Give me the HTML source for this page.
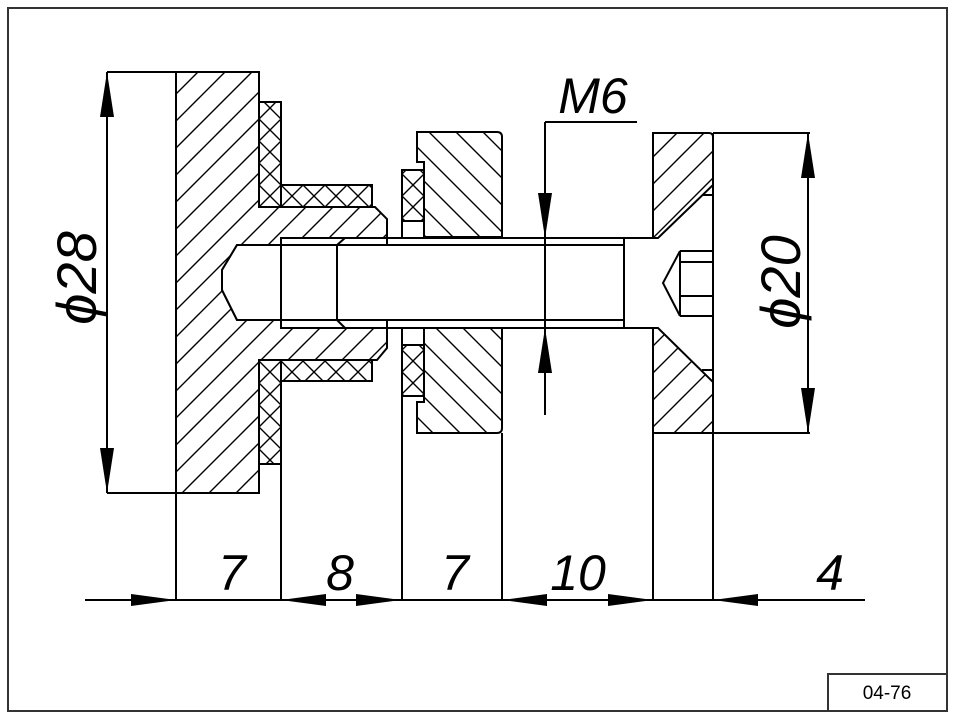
<!DOCTYPE html>
<html><head><meta charset="utf-8"><style>
html,body{margin:0;padding:0;background:#fff;}
svg{display:block;}
text{font-family:"Liberation Sans",sans-serif;font-style:italic;fill:#000;}
</style></head><body>
<svg width="957" height="720" viewBox="0 0 957 720" xmlns="http://www.w3.org/2000/svg">
<defs>
<pattern id="h1" patternUnits="userSpaceOnUse" width="27" height="27">
<path d="M-2,2 L2,-2 M0,27 L27,0 M25,29 L29,25" stroke="#000" stroke-width="1.4"/>
</pattern>
<pattern id="h2" patternUnits="userSpaceOnUse" width="27" height="27">
<path d="M-2,25 L2,29 M0,0 L27,27 M25,-2 L29,2" stroke="#000" stroke-width="1.4"/>
</pattern>
<pattern id="hx" patternUnits="userSpaceOnUse" width="22" height="22" x="259" y="185">
<path d="M0,0 L22,22 M0,22 L22,0" stroke="#000" stroke-width="1.4"/>
</pattern>
</defs>
<rect x="8" y="8" width="939" height="703" fill="none" stroke="#333" stroke-width="2"/>
<rect x="828" y="674" width="119" height="37" fill="none" stroke="#333" stroke-width="2"/>
<text x="887" y="699" text-anchor="middle" font-size="19" style="font-style:normal">04-76</text>

<g stroke="#000" stroke-width="2" fill="none">
<path fill="url(#h1)" fill-rule="evenodd" d="M176,72 H259 V207 H375 L387,219 V348 L377,360 H259 V493 H176 Z M237,245 H281 V238 H387 V328 H281 V320 H237 L222,290 L222,270 Z"/>
<rect x="259" y="102" width="22" height="105" fill="url(#hx)"/>
<rect x="281" y="185" width="91" height="22" fill="url(#hx)"/>
<rect x="259" y="360" width="22" height="104" fill="url(#hx)"/>
<rect x="281" y="360" width="91" height="21" fill="url(#hx)"/>
<rect x="402" y="170" width="22" height="51" fill="url(#hx)"/>
<rect x="402" y="345" width="22" height="51" fill="url(#hx)"/>
<path fill="url(#h2)" d="M417,132 H497 Q502,132 502,137 V237 H424 V162 H417 Z"/>
<path fill="url(#h2)" d="M424,328 H502 V428 Q502,433 497,433 H417 V402 H424 Z"/>
<path fill="url(#h1)" d="M653,133 H709 Q713,133 713,137 V185 L658,238 H653 Z"/>
<path fill="url(#h1)" d="M653,328 H658 L713,382 V433 H653 Z"/>
<path d="M713,133 V600 M702,195 H713 M702,370 H713"/>
<path fill="#fff" d="M237,245 H624 V320 H237 L222,290 L222,270 Z"/>
<path d="M281,238 H657 M281,328 H657 M281,238 V328 M337,245 V320 M337,245 L345,238 M337,320 L345,328 M624,238 V328"/>
<path d="M680,251 H713 M680,316 H713 M680,251 V316 M680,262 H713 M680,296 H713 M680,251 L663,283 L680,316"/>
<path d="M176,493 V600 M281,464 V600 M402,221 V238 M402,328 V345 M402,396 V600 M502,433 V600 M653,433 V600"/>
<path d="M107,72 H176 M107,493 H176 M107,72 V493"/>
<path d="M713,133 H810 M713,433 H810 M808,133 V433"/>
<path d="M545,122 H637 M545,122 V415"/>
<path d="M85,600 H865"/>
</g>
<g fill="#000">
<path d="M107,72 L100,117 L114,117 Z"/>
<path d="M107,493 L100,448 L114,448 Z"/>
<path d="M808,133 L801,178 L815,178 Z"/>
<path d="M808,433 L801,388 L815,388 Z"/>
<path d="M545,238 L538,193 L552,193 Z"/>
<path d="M545,328 L538,373 L552,373 Z"/>
<path d="M176,600 L131,594 L131,606 Z"/>
<path d="M281,600 L326,594 L326,606 Z"/>
<path d="M401,600 L356,594 L356,606 Z"/>
<path d="M502,600 L547,594 L547,606 Z"/>
<path d="M653,600 L608,594 L608,606 Z"/>
<path d="M713,600 L758,594 L758,606 Z"/>
</g>
<text x="232" y="590" font-size="50" text-anchor="middle">7</text>
<text x="340" y="590" font-size="50" text-anchor="middle">8</text>
<text x="455" y="590" font-size="50" text-anchor="middle">7</text>
<text x="578" y="590" font-size="50" text-anchor="middle">10</text>
<text x="830" y="590" font-size="50" text-anchor="middle">4</text>
<text x="593" y="113" font-size="50" text-anchor="middle">M6</text>
<text transform="translate(96,278) rotate(-90)" font-size="56" text-anchor="middle">ϕ28</text>
<text transform="translate(800,282) rotate(-90)" font-size="56" text-anchor="middle">ϕ20</text>
</svg>
</body></html>
